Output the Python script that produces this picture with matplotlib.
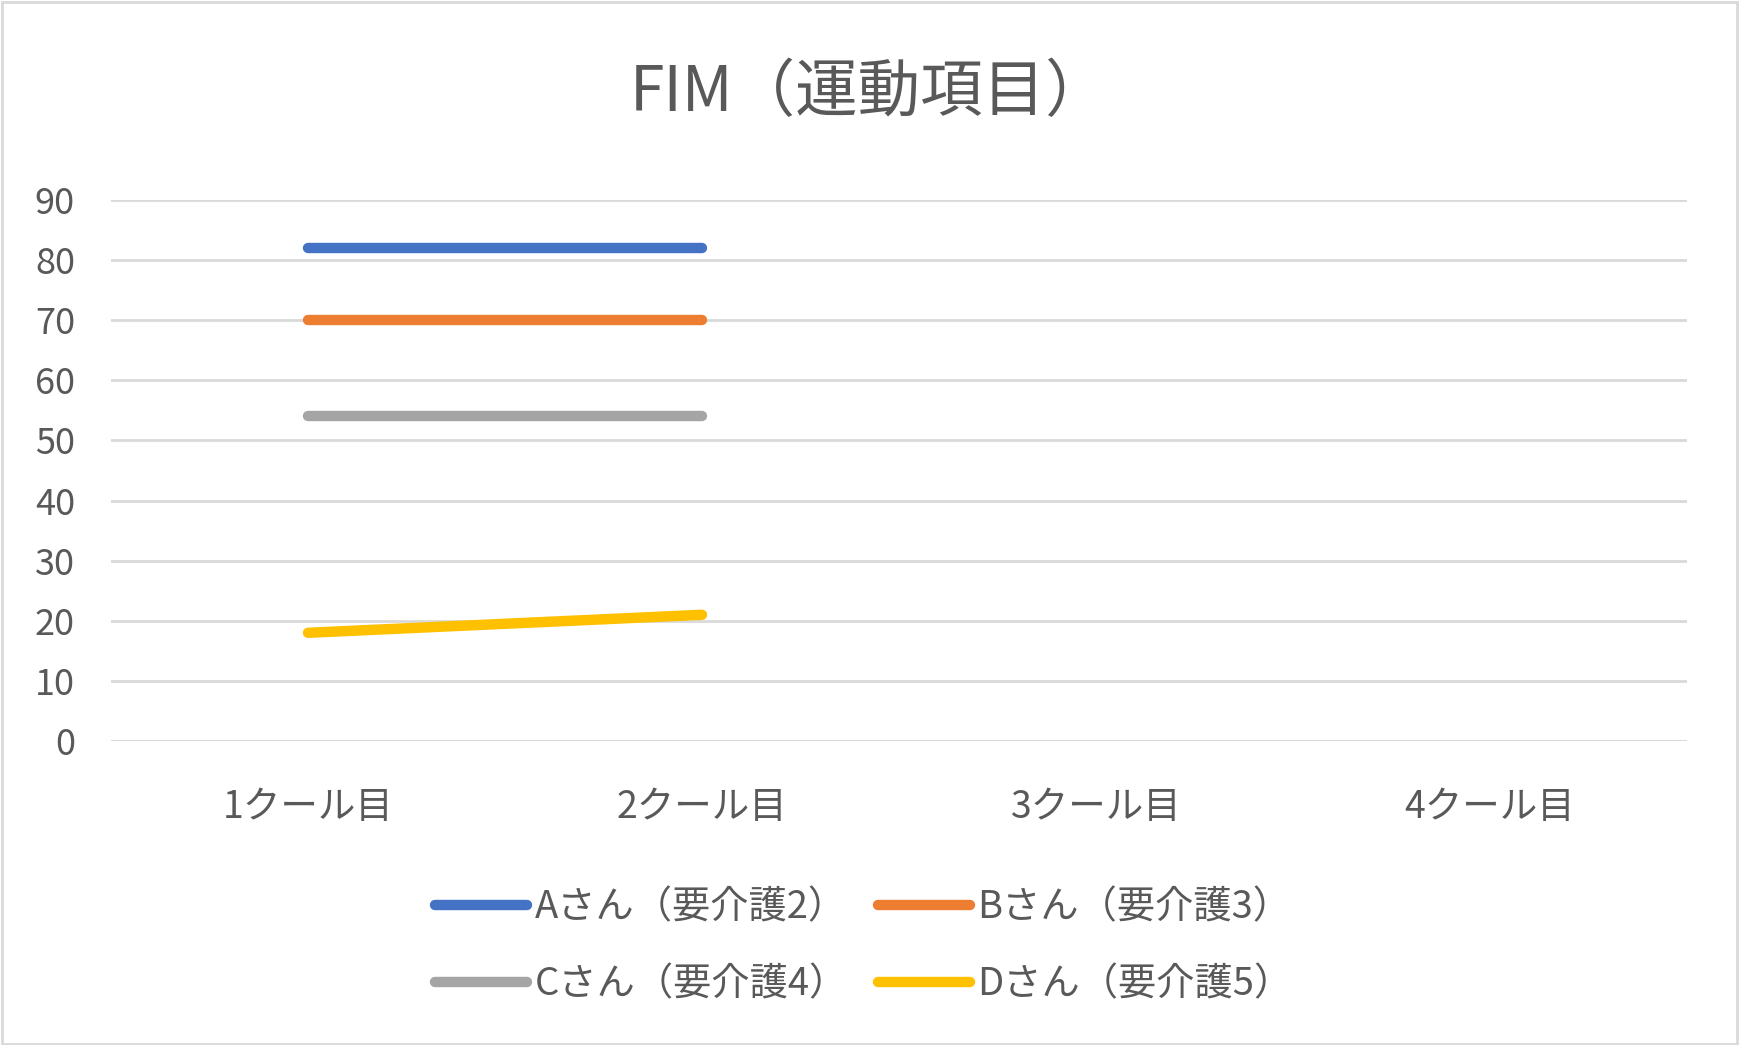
import matplotlib
matplotlib.use('Agg')
import matplotlib.pyplot as plt
from matplotlib.patches import Rectangle

plt.rcParams['font.family'] = ['Noto Sans CJK JP', 'DejaVu Sans']

categories = ['1クール目', '2クール目', '3クール目', '4クール目']
series_names = ['Aさん（要介護2）', 'Bさん（要介護3）', 'Cさん（要介護4）', 'Dさん（要介護5）']
a_vals = [82, 82]
b_vals = [70, 70]
c_vals = [54, 54]
d_vals = [18, 21]
colors = ['#4472C4', '#ED7D31', '#A5A5A5', '#FFC000']

text_color = '#595959'
grid_color = '#D9D9D9'

W, H = 1739, 1045
fig = plt.figure(figsize=(W / 100, H / 100), dpi=100)

# outer chart border
fig.patches.append(Rectangle((0.001, 0.001), 0.998, 0.997, transform=fig.transFigure,
                             fill=False, edgecolor=grid_color, linewidth=2))

ax = fig.add_axes([111 / W, 1 - 741 / H, (1687 - 111) / W, (741 - 200) / H])

x = list(range(len(categories)))
lines = []
for vals, name, col in zip([a_vals, b_vals, c_vals, d_vals], series_names, colors):
    ln, = ax.plot(x[:len(vals)], vals, color=col, linewidth=7.5, solid_capstyle='round',
                  label=name, zorder=3)
    lines.append(ln)

ax.set_xlim(-0.5, len(categories) - 0.5)
ax.set_ylim(0, 90)
ax.set_yticks(range(0, 91, 10))
ax.set_xticks(x)
ax.set_xticklabels(categories)

ax.yaxis.grid(True, color=grid_color, linewidth=2)
ax.set_axisbelow(True)
for s in ax.spines.values():
    s.set_visible(False)
ax.axhline(0, color=grid_color, linewidth=2, zorder=1)

ax.tick_params(axis='both', length=0, labelsize=26, colors=text_color)
ax.tick_params(axis='x', labelsize=27)
ax.tick_params(axis='y', pad=26)
ax.tick_params(axis='x', pad=34)

fig.text(0.5, 1 - 93 / H, 'FIM（運動項目）', ha='center', va='center', fontsize=45, color=text_color)

# row-major order: A, B on first row; C, D on second
order = [0, 2, 1, 3]
leg = fig.legend([lines[i] for i in order], [series_names[i] for i in order],
                 loc='center', bbox_to_anchor=(864 / W, 1 - 946 / H), ncol=2, frameon=False,
                 fontsize=27.5, handlelength=2.4, handletextpad=0.2, columnspacing=0.8,
                 labelspacing=1.0)
for t in leg.get_texts():
    t.set_color(text_color)
for h in leg.get_lines():
    h.set_linewidth(7.5)
    h.set_solid_capstyle('round')

fig.savefig('out.png', dpi=100)
